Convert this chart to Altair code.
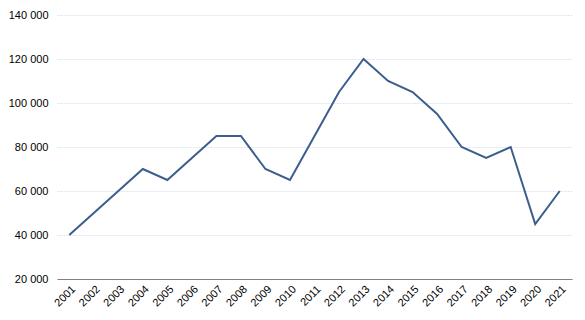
import altair as alt
import pandas as pd

years = [str(y) for y in range(2001, 2022)]
values = [40000, 50000, 60000, 70000, 65000, 75000, 85000, 85000, 70000, 65000,
          85000, 105000, 120000, 110000, 105000, 95000, 80000, 75000, 80000, 45000, 60000]
y_ticks = [20000, 40000, 60000, 80000, 100000, 120000, 140000]

df = pd.DataFrame({"year": years, "value": values})

chart = alt.Chart(df).mark_line(color="#3b5e8c", strokeWidth=2).encode(
    x=alt.X("year:O", title=None, scale=alt.Scale(type="point", padding=0.5),
            axis=alt.Axis(labelAngle=-45, labelAlign="right", labelBaseline="top",
                          ticks=False, domainColor="#808080", labelFont="Liberation Sans",
                          labelFontSize=11, labelColor="#000000", labelPadding=4)),
    y=alt.Y("value:Q", title=None, scale=alt.Scale(domain=[20000, 140000], nice=False),
            axis=alt.Axis(values=y_ticks, ticks=False, domain=False,
                          labelExpr="replace(format(datum.value, ','), ',', ' ')",
                          labelFont="Liberation Sans", labelFontSize=11, labelColor="#000000",
                          labelPadding=9, gridColor="#dfe5ec", gridDash=[2, 1])),
).properties(
    width=515, height=264,
    background="white",
    autosize=alt.AutoSizeParams(type="none"),
    padding={"left": 49, "top": 7, "right": 5, "bottom": 33},
).configure_view(stroke=None)

chart.save("out.html", embed_options={"renderer": "svg", "actions": False})
